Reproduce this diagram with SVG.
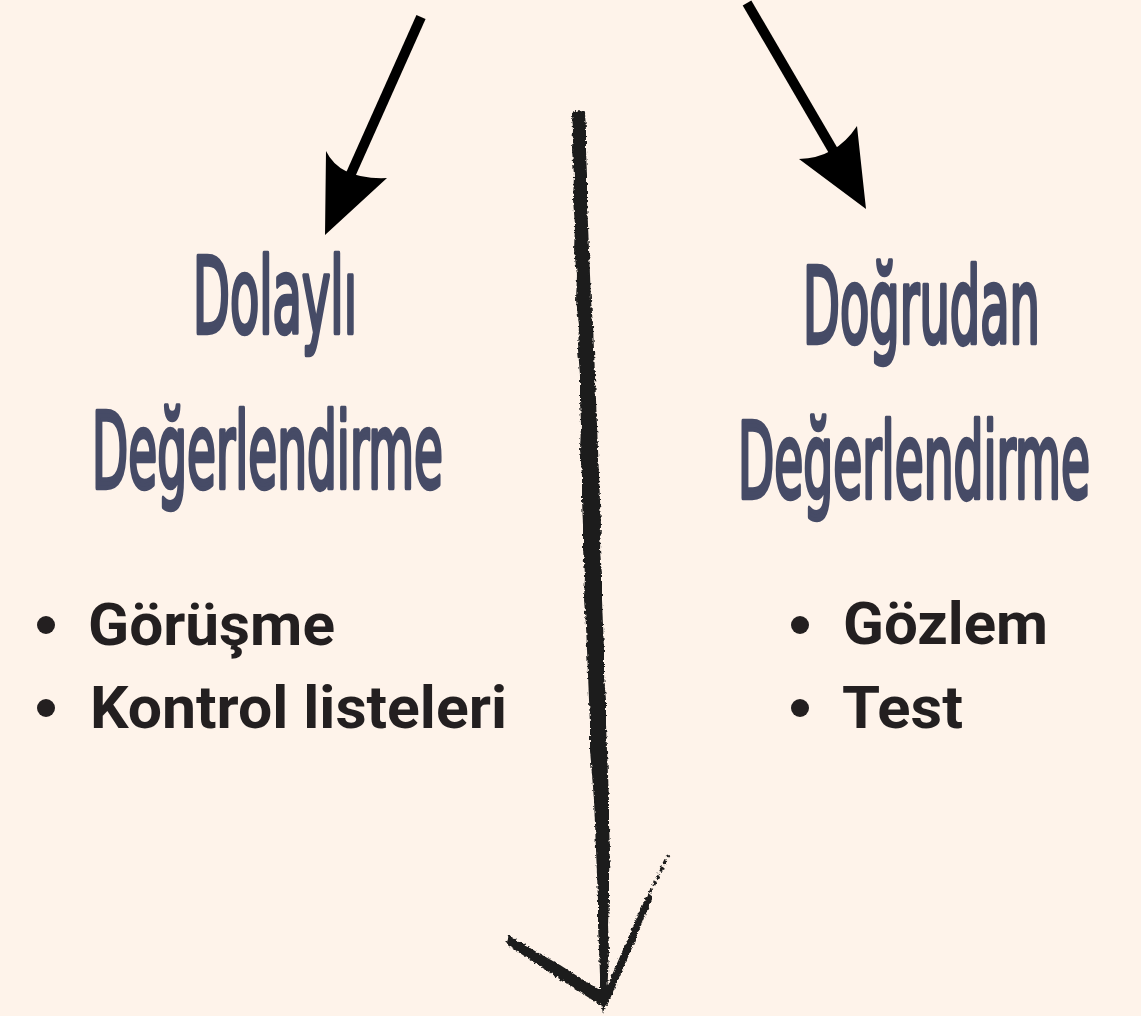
<svg xmlns="http://www.w3.org/2000/svg" width="1141" height="1016" viewBox="0 0 1141 1016">
<defs>
<style>
.title{font-family:"Liberation Sans Narrow","DejaVu Sans Condensed","Liberation Sans",sans-serif;font-size:106px;fill:#464B66;stroke:#464B66;stroke-width:4.5;stroke-linejoin:round}
.item{font-family:Roboto,"Liberation Sans",sans-serif;font-weight:700;font-size:60px;fill:#231F20}
.dot{fill:#231F20}
.shaft{stroke:#000;stroke-width:10;fill:none}
.head{fill:#000}
.brush{fill:#1F1F1F}
</style>
<filter id="rough" x="-20%" y="-5%" width="140%" height="110%">
<feTurbulence type="fractalNoise" baseFrequency="0.35" numOctaves="2" seed="3" result="n"/>
<feDisplacementMap in="SourceGraphic" in2="n" scale="4" xChannelSelector="R" yChannelSelector="G"/>
</filter>
</defs>
<rect width="1141" height="1016" fill="#FEF3EA"/>

<g id="connectors">
<g id="arrow-left">
<line class="shaft" x1="421" y1="17" x2="350" y2="176"/>
<path class="head" d="M325,235 L326,151 Q340,180 387,178 Z"/>
</g>
<g id="arrow-right">
<line class="shaft" x1="747" y1="3" x2="834" y2="152"/>
<path class="head" d="M866,209 L857,126 Q836,158 799,159 Z"/>
</g>
<g id="arrow-middle" filter="url(#rough)">
<path class="brush" d="M579,110 L572,113 L573,130 L572,150 L574,175 L573,200 L575,225 L574,250 L577,275 L576,300 L579,325 L578,350 L580,375 L580,400 L581,425 L580,450 L582,475 L582,500 L583,525 L583,550 L585,575 L584,600 L586,625 L587,650 L588,675 L589,700 L590,725 L590,750 L592,775 L594,800 L595,825 L596,850 L597,875 L598,900 L598,925 L599,950 L600,975 L600,1000 L603,1013 L607,1000 L608,975 L609,950 L608,925 L609,900 L609,875 L610,850 L609,825 L609,800 L608,775 L607,750 L606,725 L606,700 L604,675 L604,650 L603,625 L602,600 L602,575 L600,550 L601,525 L600,500 L599,475 L598,450 L597,425 L596,400 L595,375 L594,350 L593,325 L591,300 L590,275 L589,250 L588,225 L587,200 L587,175 L586,150 L586,130 L585,113 Z"/>
<path class="brush" d="M509,935 L535,951 L560,965 L585,981 L605,993 L605,1008 L583,994 L558,978 L532,961 L506,944 Z"/>
<path class="brush" d="M600,1003 L612,975 L625,945 L638,915 L648,893 L653,897 L644,918 L632,948 L618,980 L607,1006 Z"/>
<path d="M650,893 L668,855" stroke="#1F1F1F" stroke-width="3" stroke-dasharray="5 3" fill="none"/>
</g>
</g>

<g id="node-dolayli">
<text class="title" transform="scale(0.5,1)" x="386" y="333" textLength="328" lengthAdjust="spacingAndGlyphs">Dolaylı</text>
<text class="title" transform="scale(0.49,1)" x="187.8" y="488" textLength="716.3" lengthAdjust="spacingAndGlyphs">Değerlendirme</text>
<circle class="dot" cx="46" cy="625" r="9"/>
<text class="item" x="88" y="645" textLength="247" lengthAdjust="spacingAndGlyphs">Görüşme</text>
<circle class="dot" cx="46" cy="708" r="9"/>
<text class="item" x="90" y="728" textLength="417" lengthAdjust="spacingAndGlyphs">Kontrol listeleri</text>
</g>

<g id="node-dogrudan">
<text class="title" transform="scale(0.5,1)" x="1606" y="343" textLength="474" lengthAdjust="spacingAndGlyphs">Doğrudan</text>
<text class="title" transform="scale(0.49,1)" x="1506.1" y="498" textLength="718.4" lengthAdjust="spacingAndGlyphs">Değerlendirme</text>
<circle class="dot" cx="800" cy="625" r="9"/>
<text class="item" x="843" y="644" textLength="205" lengthAdjust="spacingAndGlyphs">Gözlem</text>
<circle class="dot" cx="800" cy="708" r="9"/>
<text class="item" x="842" y="728" textLength="121" lengthAdjust="spacingAndGlyphs">Test</text>
</g>
</svg>
